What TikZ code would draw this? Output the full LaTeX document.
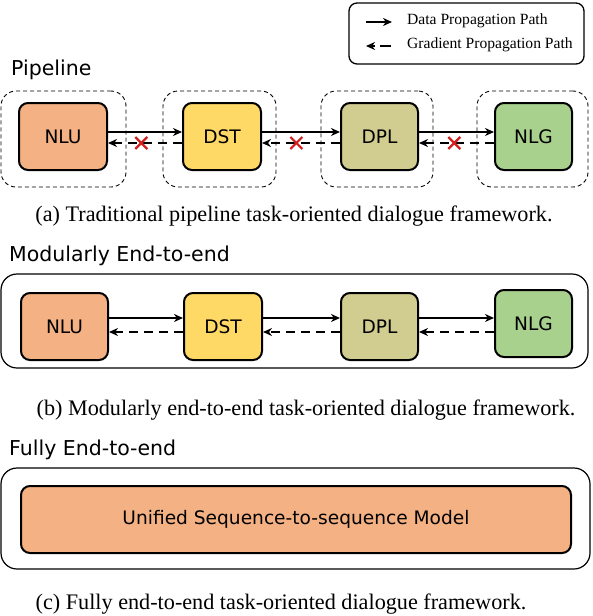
\documentclass[tikz,border=0pt]{standalone}
\usepackage{fontspec}
\setmainfont{Liberation Serif}
\setsansfont{DejaVu Sans}
\usetikzlibrary{arrows.meta}
\definecolor{cNLU}{HTML}{F4B183}
\definecolor{cDST}{HTML}{FFD966}
\definecolor{cDPL}{HTML}{D1CC8F}
\definecolor{cNLG}{HTML}{A9D18E}
\definecolor{cX}{HTML}{D02020}
\begin{document}
\begin{tikzpicture}[x=1pt,y=-1pt,
  mod/.style={draw=black, line width=2pt, rounded corners=9pt, font=\sffamily\fontsize{18.6}{20}\selectfont, inner sep=0pt, minimum height=67pt},
  grp/.style={draw=black, line width=0.9pt, rounded corners=15pt, dash pattern=on 4pt off 3pt, minimum height=96pt, inner sep=0pt},
  outer/.style={draw=black, line width=1.2pt, rounded corners=16pt, inner sep=0pt},
  data/.style={-{Stealth[length=9pt,width=8pt]}, line width=1.8pt},
  grad/.style={-{Stealth[length=9pt,width=8pt]}, line width=1.8pt, dash pattern=on 9pt off 6pt},
  head/.style={anchor=west, font=\sffamily\fontsize{20.5}{24}\selectfont, inner sep=0pt},
  captext/.style={font=\fontsize{22.2}{26}\selectfont, inner sep=0pt},
  legt/.style={anchor=west, font=\fontsize{15.6}{18}\selectfont, inner sep=0pt},
  xmark/.style={draw=cX, line width=2.2pt}
]
\useasboundingbox (0,0) rectangle (592,616);

% legend
\node[draw=black, line width=1.3pt, rounded corners=8pt, minimum width=235pt, minimum height=61pt, inner sep=0pt] (leg) at (466.5,33.5) {};
\node[legt] (lt1) at (407,21) {Data Propagation Path};
\node[legt] (lt2) at (407,45) {Gradient Propagation Path};
\coordinate (la1) at (366,22);
\coordinate (la2) at (392,22);
\coordinate (lb1) at (391,46);
\coordinate (lb2) at (366,46);
\draw[data, line width=2.4pt] (la1) -- (la2);
\draw[-{Stealth[length=9pt,width=8pt]}, line width=2.4pt, dash pattern=on 11pt off 5pt] (lb1) -- (lb2);

% (a) pipeline
\node[head] (h1) at (11,70) {Pipeline};
\node[grp, minimum width=125pt] (g1) at (63.5,139) {};
\node[grp, minimum width=113pt] (g2) at (219.5,139) {};
\node[grp, minimum width=112pt] (g3) at (377,139) {};
\node[grp, minimum width=111pt] (g4) at (532.5,139) {};
\node[mod, fill=cNLU, minimum width=88pt] (nlu1) at (63,136.5) {NLU};
\node[mod, fill=cDST, minimum width=78pt] (dst1) at (222,136.5) {DST};
\node[mod, fill=cDPL, minimum width=77pt] (dpl1) at (379.5,136.5) {DPL};
\node[mod, fill=cNLG, minimum width=77pt] (nlg1) at (533.5,136.5) {NLG};
\draw[data] ([yshift=4.5pt]nlu1.east) -- ([yshift=4.5pt]dst1.west);
\draw[data] ([yshift=4.5pt]dst1.east) -- ([yshift=4.5pt]dpl1.west);
\draw[data] ([yshift=4.5pt]dpl1.east) -- ([yshift=4.5pt]nlg1.west);
\draw[grad] ([yshift=-6.5pt]dst1.west) -- ([yshift=-6.5pt]nlu1.east) coordinate[pos=0.55] (x1);
\draw[grad] ([yshift=-6.5pt]dpl1.west) -- ([yshift=-6.5pt]dst1.east) coordinate[pos=0.56] (x2);
\draw[grad] ([yshift=-6.5pt]nlg1.west) -- ([yshift=-6.5pt]dpl1.east) coordinate[pos=0.53] (x3);
\foreach \c in {x1,x2,x3}{
  \draw[xmark] ([shift={(-6pt,-6pt)}]\c) -- ([shift={(6pt,6pt)}]\c);
  \draw[xmark] ([shift={(-6pt,6pt)}]\c) -- ([shift={(6pt,-6pt)}]\c);
}
\node[captext] (ca) at (294,216) {(a) Traditional pipeline task-oriented dialogue framework.};

% (b) modular
\node[head] (h2) at (9,256) {Modularly End-to-end};
\node[outer, minimum width=587pt, minimum height=94pt] (o2) at (294.5,321) {};
\node[mod, fill=cNLU, minimum width=87pt] (nlu2) at (64.5,326.5) {NLU};
\node[mod, fill=cDST, minimum width=78pt] (dst2) at (223,326.5) {DST};
\node[mod, fill=cDPL, minimum width=77pt] (dpl2) at (379.5,326.5) {DPL};
\node[mod, fill=cNLG, minimum width=77pt] (nlg2) at (533.5,323.5) {NLG};
\draw[data] ([yshift=8.5pt]nlu2.east) -- ([yshift=8.5pt]dst2.west);
\draw[data] ([yshift=8.5pt]dst2.east) -- ([yshift=8.5pt]dpl2.west);
\draw[data] (dpl2.east |- 0,318) -- (nlg2.west |- 0,318);
\draw[grad] ([yshift=-5.5pt]dst2.west) -- ([yshift=-5.5pt]nlu2.east);
\draw[grad] ([yshift=-5.5pt]dpl2.west) -- ([yshift=-5.5pt]dst2.east);
\draw[grad] (nlg2.west |- 0,332) -- (dpl2.east |- 0,332);
\node[captext] (cb) at (306,410) {(b) Modularly end-to-end task-oriented dialogue framework.};

% (c) fully
\node[head] (h3) at (9,450) {Fully End-to-end};
\node[outer, minimum width=589pt, minimum height=101pt] (o3) at (295.5,518.5) {};
\node[mod, fill=cNLU, minimum width=550pt] (uni) at (296,519.5) {Unified Sequence-to-sequence Model};
\node[captext] (cc) at (281,604) {(c) Fully end-to-end task-oriented dialogue framework.};
\end{tikzpicture}
\end{document}
